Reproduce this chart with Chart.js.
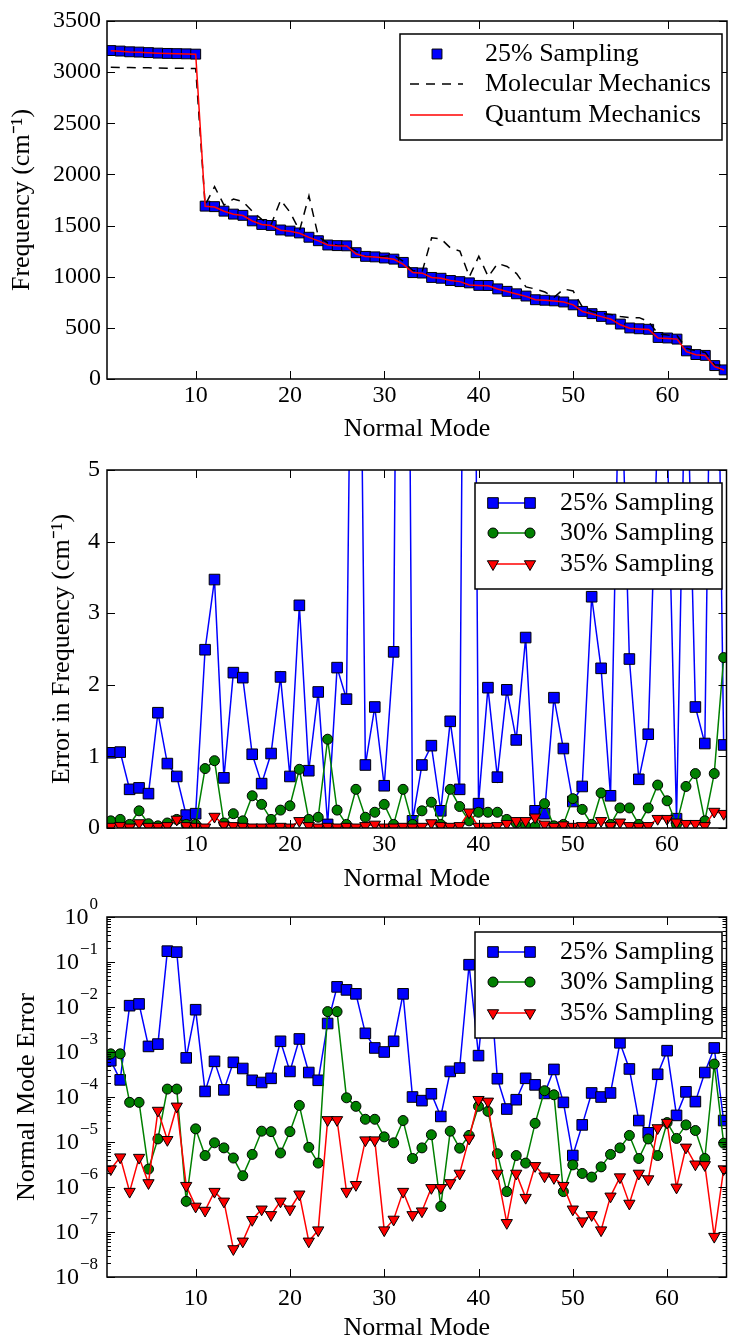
<!DOCTYPE html>
<html>
<head>
<meta charset="utf-8">
<script src="https://cdn.jsdelivr.net/npm/chart.js@4"></script>
<style>
html, body { margin: 0; padding: 0; background: #fff; overflow: hidden; }
#wrap { position: relative; width: 735px; height: 1337px; }
canvas { position: absolute; left: 0; }
</style>
</head>
<body>
<div id="wrap">
  <canvas id="c1" width="735" height="450" style="top:0px"></canvas>
  <canvas id="c2" width="735" height="454" style="top:446px"></canvas>
  <canvas id="c3" width="735" height="460" style="top:892px"></canvas>
</div>
<script>
// normal mode index (x axis)
const modes = [];
for (let i = 1; i <= 66; i++) modes.push(i);
const xTickLabels = [10, 20, 30, 40, 50, 60];

// top panel: frequencies (cm-1)
const freqTicks = [0, 500, 1000, 1500, 2000, 2500, 3000, 3500];
const quantumMech = [3210, 3205, 3198, 3195, 3190, 3185, 3182, 3180, 3178, 3175,
  1688, 1682, 1640, 1610, 1598, 1545, 1510, 1500, 1455, 1445,
  1425, 1385, 1350, 1310, 1302, 1300, 1222, 1198, 1192, 1182,
  1170, 1120, 1040, 1035, 992, 985, 962, 952, 920, 915,
  912, 880, 855, 832, 808, 775, 770, 762, 752, 725,
  660, 636, 610, 585, 530, 497, 490, 485, 400, 396,
  390, 268, 237, 230, 120, 88];
const sampling25Freq = [3211, 3206, 3199, 3196, 3191, 3186, 3183, 3181, 3179, 3176,
  1690, 1685, 1641, 1612, 1600, 1546, 1511, 1501, 1457, 1446,
  1428, 1386, 1352, 1310, 1304, 1302, 1235, 1199, 1194, 1183,
  1172, 1140, 1040, 1036, 993, 985, 963, 952, 940, 915,
  914, 881, 857, 833, 811, 775, 770, 764, 753, 725,
  661, 639, 612, 585, 537, 499, 491, 486, 406, 401,
  390, 275, 239, 231, 131, 89];
const molecularMech = [3048, 3046, 3045, 3043, 3042, 3040, 3039, 3038, 3037, 3035,
  1700, 1880, 1700, 1760, 1735, 1640, 1560, 1510, 1750, 1630,
  1450, 1790, 1390, 1330, 1310, 1305, 1250, 1200, 1195, 1200,
  1210, 1150, 1060, 1050, 1380, 1370, 1280, 1250, 1000, 1200,
  1000, 1130, 1100, 1030, 900, 880, 850, 800, 880, 860,
  700, 660, 640, 630, 610, 600, 600, 560, 440, 430,
  425, 300, 275, 260, 140, 130];

// middle panel: error in frequency (cm-1)
const errTicks = [0, 1, 2, 3, 4, 5];
const err25 = [1.05, 1.06, 0.54, 0.56, 0.48, 1.61, 0.90, 0.72, 0.18, 0.20,
  2.49, 3.47, 0.70, 2.17, 2.10, 1.03, 0.62, 1.04, 2.11, 0.72,
  3.11, 0.80, 1.90, 0.05, 2.24, 1.80, 13.5, 0.88, 1.69, 0.59,
  2.46, 20.0, 0.10, 0.88, 1.15, 0.24, 1.49, 0.54, 20.0, 0.34,
  1.96, 0.71, 1.93, 1.23, 2.66, 0.24, 0.20, 1.82, 1.11, 0.37,
  0.58, 3.23, 2.23, 0.45, 7.0, 2.36, 0.68, 1.31, 5.6, 5.5,
  0.13, 7.0, 1.69, 1.18, 11.0, 1.16];
const err30 = [0.10, 0.12, 0.05, 0.24, 0.06, 0.03, 0.07, 0.12, 0.05, 0.05,
  0.83, 0.94, 0.07, 0.20, 0.10, 0.45, 0.33, 0.12, 0.25, 0.31,
  0.82, 0.12, 0.15, 1.24, 0.25, 0.05, 0.54, 0.15, 0.22, 0.33,
  0.05, 0.54, 0.05, 0.24, 0.36, 0.05, 0.54, 0.30, 0.10, 0.22,
  0.22, 0.22, 0.12, 0.07, 0.03, 0.02, 0.34, 0.03, 0.05, 0.41,
  0.26, 0.05, 0.49, 0.05, 0.28, 0.28, 0.05, 0.28, 0.60, 0.38,
  0.05, 0.58, 0.76, 0.10, 0.76, 2.38];
const err35 = [0.02, 0.03, 0.01, 0.07, 0.02, 0.02, 0.03, 0.12, 0.03, 0.02,
  0.01, 0.16, 0.04, 0.03, 0.02, 0.01, 0.01, 0.01, 0.02, 0.01,
  0.10, 0.03, 0.01, 0.02, 0.01, 0.02, 0.01, 0.03, 0.05, 0.01,
  0.01, 0.02, 0.01, 0.02, 0.07, 0.03, 0.02, 0.03, 0.22, 0.02,
  0.02, 0.03, 0.06, 0.10, 0.10, 0.15, 0.05, 0.02, 0.04, 0.02,
  0.03, 0.02, 0.10, 0.03, 0.08, 0.03, 0.02, 0.03, 0.13, 0.13,
  0.08, 0.06, 0.06, 0.03, 0.23, 0.20];

// bottom panel: normal mode error (log)
const logTickExps = [-8, -7, -6, -5, -4, -3, -2, -1, 0];
const nm25 = [6.4e-4, 2.4e-4, 1.07e-2, 1.17e-2, 1.33e-3, 1.5e-3, 0.174, 0.166, 7.4e-4, 8.7e-3,
  1.33e-4, 6.2e-4, 1.44e-4, 5.9e-4, 4.3e-4, 2.35e-4, 2.1e-4, 2.6e-4, 1.73e-3, 3.7e-4,
  1.95e-3, 3.5e-4, 2.35e-4, 4.3e-3, 2.8e-2, 2.4e-2, 1.96e-2, 2.6e-3, 1.23e-3, 1.0e-3,
  1.73e-3, 1.96e-2, 1.0e-4, 8.3e-5, 1.18e-4, 3.7e-5, 3.7e-4, 4.4e-4, 8.7e-2, 8.3e-4,
  0.15, 2.55e-4, 5.4e-5, 8.7e-5, 2.6e-4, 1.86e-4, 1.2e-4, 4.1e-4, 7.6e-5, 5e-6,
  2.4e-5, 1.23e-4, 1.0e-4, 1.23e-4, 1.6e-3, 4.2e-4, 3e-5, 1.6e-5, 3.2e-4, 1.07e-3,
  3.9e-5, 1.3e-4, 7.9e-5, 3.5e-4, 1.23e-3, 3e-5];
const nm30 = [9.1e-4, 9.1e-4, 7.6e-5, 7.6e-5, 2.5e-6, 1.17e-5, 1.5e-4, 1.5e-4, 4.8e-7, 1.96e-5,
  5e-6, 9.6e-6, 7.4e-6, 4.4e-6, 1.78e-6, 5.3e-6, 1.74e-5, 1.7e-5, 5.7e-6, 1.7e-5,
  6.5e-5, 7.6e-6, 3.4e-6, 7.9e-3, 7.9e-3, 9.6e-5, 6.2e-5, 3.2e-5, 3.2e-5, 1.3e-5,
  9.6e-6, 3.0e-5, 4.3e-6, 7.4e-6, 1.45e-5, 3.7e-7, 1.74e-5, 7.3e-6, 1.4e-5, 6.2e-5,
  4.8e-5, 5.5e-6, 7.9e-7, 5e-6, 3.4e-6, 2.6e-5, 1.38e-4, 1.12e-4, 7.9e-7, 3.1e-6,
  2e-6, 1.66e-6, 2.8e-6, 5.3e-6, 7.4e-6, 1.4e-5, 4.3e-6, 1.17e-5, 5e-6, 2.7e-5,
  1.2e-5, 2.4e-5, 1.8e-5, 4.3e-6, 5.4e-4, 9.4e-6];
const nm35 = [2.5e-6, 4.6e-6, 7.9e-7, 4.5e-6, 1.23e-6, 5e-5, 1.12e-5, 6.2e-5, 1.07e-6, 3.7e-7,
  3e-7, 7.9e-7, 4.8e-7, 4.2e-8, 6.2e-8, 1.87e-7, 3.2e-7, 2.4e-7, 4.8e-7, 3.2e-7,
  6.9e-7, 6.2e-8, 1.1e-7, 3.1e-5, 3.1e-5, 7.9e-7, 1.12e-6, 1.1e-5, 1.1e-5, 1.1e-7,
  1.9e-7, 7.9e-7, 2.4e-7, 2.9e-7, 9.6e-7, 9.6e-7, 1.23e-6, 2e-6, 1.2e-5, 8.7e-5,
  8e-5, 2e-6, 1.6e-7, 2e-6, 5.8e-7, 2.95e-6, 1.74e-6, 1.6e-6, 1.07e-6, 3.2e-7,
  1.74e-7, 2.4e-7, 1.1e-7, 6.2e-7, 1.66e-6, 4.3e-7, 2e-6, 1.5e-6, 2.05e-5, 2.7e-5,
  9.8e-7, 7.6e-6, 3.2e-6, 3.1e-6, 7.9e-8, 2.5e-6];

const FONT = "'Liberation Serif', 'Times New Roman', serif";

function pts(arr) { return arr.map((v, i) => ({ x: modes[i], y: v })); }

function drawMarker(ctx, ds, x, y) {
  const r = ds.pointRadius;
  ctx.fillStyle = ds.pointBackgroundColor;
  ctx.strokeStyle = ds.pointBorderColor;
  ctx.lineWidth = ds.pointBorderWidth;
  ctx.setLineDash([]);
  ctx.beginPath();
  if (ds.pointStyle === 'rect') {
    const h = r * Math.SQRT1_2;
    ctx.rect(x - h, y - h, 2 * h, 2 * h);
  } else if (ds.pointStyle === 'circle') {
    ctx.arc(x, y, r, 0, Math.PI * 2);
  } else {
    const s = r * Math.sin(Math.PI / 3);
    ctx.moveTo(x, y + r);
    ctx.lineTo(x - s, y - r / 2);
    ctx.lineTo(x + s, y - r / 2);
    ctx.closePath();
  }
  ctx.fill();
  ctx.stroke();
}

// box + inward ticks like the original
const framePlugin = {
  id: 'frame',
  afterDatasetsDraw(chart) {
    const { ctx, chartArea: a, scales: { x, y } } = chart;
    ctx.save();
    ctx.strokeStyle = '#000';
    ctx.lineWidth = 1;
    ctx.beginPath();
    x.ticks.forEach(t => {
      const px = Math.round(x.getPixelForValue(t.value)) + 0.5;
      ctx.moveTo(px, a.bottom); ctx.lineTo(px, a.bottom - 8);
      ctx.moveTo(px, a.top); ctx.lineTo(px, a.top + 8);
    });
    y.ticks.forEach(t => {
      const py = Math.round(y.getPixelForValue(t.value)) + 0.5;
      const len = t.minor ? 4 : 8;
      ctx.moveTo(a.left, py); ctx.lineTo(a.left + len, py);
      ctx.moveTo(a.right, py); ctx.lineTo(a.right - len, py);
    });
    ctx.stroke();
    ctx.lineWidth = 1.5;
    ctx.strokeRect(a.left, a.top, a.right - a.left, a.bottom - a.top);

    // log labels 10^n
    const o = chart.options.plugins.logLabels;
    if (o && o.show) {
      ctx.fillStyle = '#000';
      ctx.textAlign = 'right';
      ctx.textBaseline = 'middle';
      logTickExps.forEach(e => {
        const py = y.getPixelForValue(Math.pow(10, e));
        const ex = e === 0 ? '0' : '\u2212' + Math.abs(e);
        ctx.font = '17px ' + FONT;
        const w = ctx.measureText(ex).width;
        ctx.fillText(ex, 98, py - 12);
        ctx.font = '24px ' + FONT;
        ctx.fillText('10', 98 - w - 1, py + 1);
      });
    }
    ctx.restore();
  }
};

const legendPlugin = {
  id: 'boxLegend',
  afterDraw(chart) {
    const o = chart.options.plugins.boxLegend;
    if (!o || !o.box) return;
    const ctx = chart.ctx;
    const [x1, y1, x2, y2] = o.box;
    ctx.save();
    ctx.fillStyle = '#fff';
    ctx.fillRect(x1, y1, x2 - x1, y2 - y1);
    ctx.lineWidth = 1.5;
    ctx.strokeStyle = '#000';
    ctx.strokeRect(x1, y1, x2 - x1, y2 - y1);
    o.rows.forEach((r, i) => {
      const ds = chart.data.datasets[r.ds];
      const yy = o.rowY[i];
      if (r.line) {
        ctx.setLineDash(ds.borderDash || []);
        ctx.strokeStyle = ds.borderColor;
        ctx.lineWidth = ds.borderWidth;
        ctx.beginPath();
        ctx.moveTo(o.lineX[0], yy);
        ctx.lineTo(o.lineX[1], yy);
        ctx.stroke();
        ctx.setLineDash([]);
      }
      (r.markers || []).forEach(mx => drawMarker(ctx, ds, mx, yy));
      ctx.fillStyle = '#000';
      ctx.font = '26px ' + FONT;
      ctx.textAlign = 'left';
      ctx.textBaseline = 'middle';
      ctx.fillText(ds.label, o.textX, yy);
    });
    ctx.restore();
  }
};

function makeChart(id, c) {
  const yScale = Object.assign({
    grid: { display: false, drawTicks: false },
    border: { display: false },
    afterFit: s => { s.width = 107; },
    title: { display: true, text: c.yTitle, color: '#000', font: { family: FONT, size: 26 },
             padding: { top: c.yTitlePad, bottom: 0 } }
  }, c.y);
  return new Chart(document.getElementById(id), {
    type: 'line',
    data: { datasets: c.datasets },
    options: {
      responsive: false,
      animation: false,
      events: [],
      layout: { padding: { top: c.plotTop, right: 2, left: 0, bottom: 0 } },
      plugins: {
        legend: { display: false },
        tooltip: { enabled: false },
        boxLegend: c.legend,
        logLabels: { show: !!c.logLabels }
      },
      scales: {
        x: {
          type: 'linear', min: 0.6, max: 66.3,
          grid: { display: false, drawTicks: false },
          border: { display: false },
          afterBuildTicks: s => { s.ticks = xTickLabels.map(v => ({ value: v })); },
          afterFit: s => { s.height = c.xAxisH; },
          ticks: { color: '#000', font: { family: FONT, size: 24 }, padding: c.xTickPad,
                   maxRotation: 0, autoSkip: false, callback: v => String(v) },
          title: { display: true, text: 'Normal Mode', color: '#000', font: { family: FONT, size: 26 },
                   padding: { top: 0, bottom: c.xTitlePad } }
        },
        y: yScale
      }
    },
    plugins: [framePlugin, legendPlugin]
  });
}

const BLUE = '#0000ff', GREEN = '#008000', RED = '#ff0000';

// top panel
makeChart('c1', {
  plotTop: 21, xAxisH: 71, xTickPad: 2, xTitlePad: 5, yTitlePad: 7,
  yTitle: 'Frequency (cm\u207B\u00B9)',
  y: {
    type: 'linear', min: 0, max: 3500,
    afterBuildTicks: s => { s.ticks = freqTicks.map(v => ({ value: v })); },
    ticks: { color: '#000', font: { family: FONT, size: 24 }, padding: 6, callback: v => String(v) }
  },
  datasets: [
    { label: 'Quantum Mechanics', data: pts(quantumMech), borderColor: RED, borderWidth: 1.5,
      pointRadius: 0, tension: 0, order: 1 },
    { label: 'Molecular Mechanics', data: pts(molecularMech), borderColor: '#000', borderWidth: 1.5,
      borderDash: [9, 7], pointRadius: 0, tension: 0, order: 2 },
    { label: '25% Sampling', data: pts(sampling25Freq), showLine: false, pointStyle: 'rect',
      pointRadius: 7, pointBackgroundColor: BLUE, pointBorderColor: '#000', pointBorderWidth: 1, order: 3 }
  ],
  legend: {
    box: [400, 34, 722, 140], rowY: [54, 84, 115], lineX: [410, 463], textX: 485,
    rows: [{ ds: 2, markers: [437] }, { ds: 1, line: true }, { ds: 0, line: true }]
  }
});

function samplingSets(a, b, c) {
  return [
    { label: '25% Sampling', data: pts(a), borderColor: BLUE, borderWidth: 1.5, tension: 0,
      pointStyle: 'rect', pointRadius: 7.5, pointBackgroundColor: BLUE, pointBorderColor: '#000',
      pointBorderWidth: 1, order: 3 },
    { label: '30% Sampling', data: pts(b), borderColor: GREEN, borderWidth: 1.5, tension: 0,
      pointStyle: 'circle', pointRadius: 5, pointBackgroundColor: GREEN, pointBorderColor: '#000',
      pointBorderWidth: 1, order: 2 },
    { label: '35% Sampling', data: pts(c), borderColor: RED, borderWidth: 1.5, tension: 0,
      pointStyle: 'triangle', pointRotation: 180, pointRadius: 6.5, pointBackgroundColor: RED,
      pointBorderColor: '#000', pointBorderWidth: 1, order: 1 }
  ];
}
const sampRows = [{ ds: 0, line: true, markers: [493, 530] }, { ds: 1, line: true, markers: [493, 530] },
                  { ds: 2, line: true, markers: [493, 530] }];

// middle panel
makeChart('c2', {
  plotTop: 24, xAxisH: 72, xTickPad: 2, xTitlePad: 5, yTitlePad: 47,
  yTitle: 'Error in Frequency (cm\u207B\u00B9)',
  y: {
    type: 'linear', min: 0, max: 5,
    afterBuildTicks: s => { s.ticks = errTicks.map(v => ({ value: v })); },
    ticks: { color: '#000', font: { family: FONT, size: 24 }, padding: 7, callback: v => String(v) }
  },
  datasets: samplingSets(err25, err30, err35),
  legend: { box: [475, 37, 722, 143], rowY: [57, 87, 118], lineX: [493, 530], textX: 560, rows: sampRows }
});

// bottom panel
makeChart('c3', {
  plotTop: 25, xAxisH: 75, xTickPad: 7, xTitlePad: 8, yTitlePad: 12, logLabels: true,
  yTitle: 'Normal Mode Error',
  y: {
    type: 'logarithmic', min: 1e-8, max: 1,
    afterBuildTicks: s => {
      const t = [];
      logTickExps.forEach(e => {
        for (let m = 1; m <= 9; m++) {
          const v = m * Math.pow(10, e);
          if (v <= 1.0000001) t.push({ value: v, minor: m !== 1 });
        }
      });
      s.ticks = t;
    },
    ticks: { display: false }
  },
  datasets: samplingSets(nm25, nm30, nm35),
  legend: { box: [475, 40, 722, 146], rowY: [60, 90, 121], lineX: [493, 530], textX: 560, rows: sampRows }
});
</script>
</body>
</html>
